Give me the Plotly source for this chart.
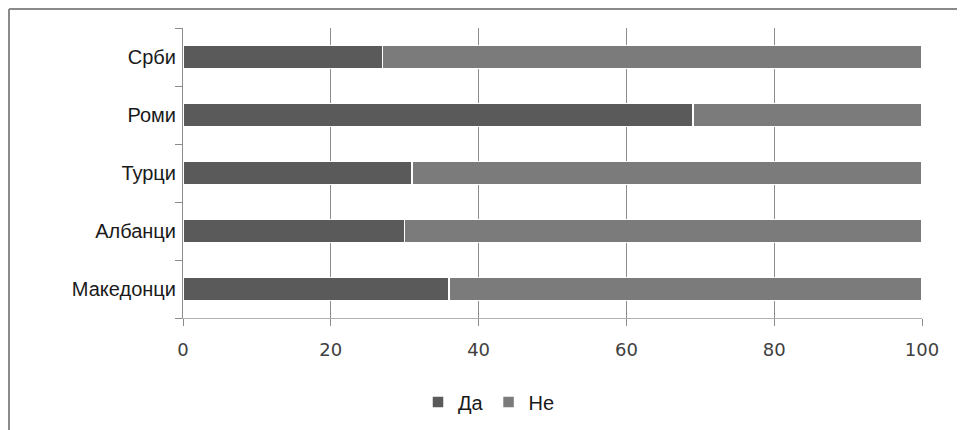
import plotly.graph_objects as go

categories = ["Македонци", "Албанци", "Турци", "Роми", "Срби"]
da_values = [36, 30, 31, 69, 27]
ne_values = [64, 70, 69, 31, 73]
x_ticks = [0, 20, 40, 60, 80, 100]

OFF = 8  # page body margin
W, H = 965 - OFF, 430 - OFF
L = 183 - OFF
T = 28 - OFF
R = W - (922 - OFF)
B = H - (318 - OFF)
pw, ph = W - L - R, H - T - B

def px_x(p):
    return (p - OFF - L) / pw

def px_y(p):
    return (H - B - (p - OFF)) / ph

label_font = dict(family="Liberation Sans Narrow, Arial Narrow, Liberation Sans", size=20, color="#1a1a1a")
border = dict(color="#8a8a8a", width=2)

fig = go.Figure()
fig.add_trace(go.Bar(
    y=categories, x=da_values, name="Да", orientation="h",
    marker=dict(color="#5a5a5a", line=dict(color="white", width=1.5)),
    width=0.4,
))
fig.add_trace(go.Bar(
    y=categories, x=ne_values, name="Не", orientation="h",
    marker=dict(color="#7b7b7b", line=dict(color="white", width=1.5)),
    width=0.4,
))

fig.update_layout(
    barmode="stack",
    width=W, height=H,
    margin=dict(l=L, r=R, t=T, b=B, pad=0, autoexpand=False),
    paper_bgcolor="white",
    plot_bgcolor="white",
    showlegend=True,
    legend=dict(
        orientation="h", x=px_x(489), xanchor="center",
        y=px_y(402), yanchor="middle",
        font=label_font, itemwidth=30, traceorder="normal",
        bgcolor="rgba(0,0,0,0)",
    ),
    xaxis=dict(
        range=[0, 100], tickvals=x_ticks, ticktext=[str(v) for v in x_ticks],
        showgrid=True, gridcolor="#8c8c8c", gridwidth=1,
        zeroline=False, automargin=False,
        showline=True, linecolor="#b0b0b0", linewidth=1,
        ticks="outside", ticklen=7, tickcolor="#8c8c8c",
        tickfont=dict(family="DejaVu Sans", size=18, color="#404040"),
        ticklabelstandoff=8,
    ),
    yaxis=dict(
        type="category", categoryorder="array", categoryarray=categories,
        showgrid=False, zeroline=False, automargin=False,
        showline=True, linecolor="#8c8c8c", linewidth=1,
        ticks="outside", ticklen=7, tickcolor="#8c8c8c", tickson="boundaries",
        tickfont=label_font,
        ticklabelstandoff=2,
    ),
    shapes=[
        dict(type="line", xref="paper", yref="paper",
             x0=px_x(9), x1=px_x(1000), y0=px_y(9), y1=px_y(9), line=border, layer="below"),
        dict(type="line", xref="paper", yref="paper",
             x0=px_x(9), x1=px_x(9), y0=px_y(9), y1=px_y(460), line=border, layer="below"),
    ],
)

fig.write_html("out.html")
